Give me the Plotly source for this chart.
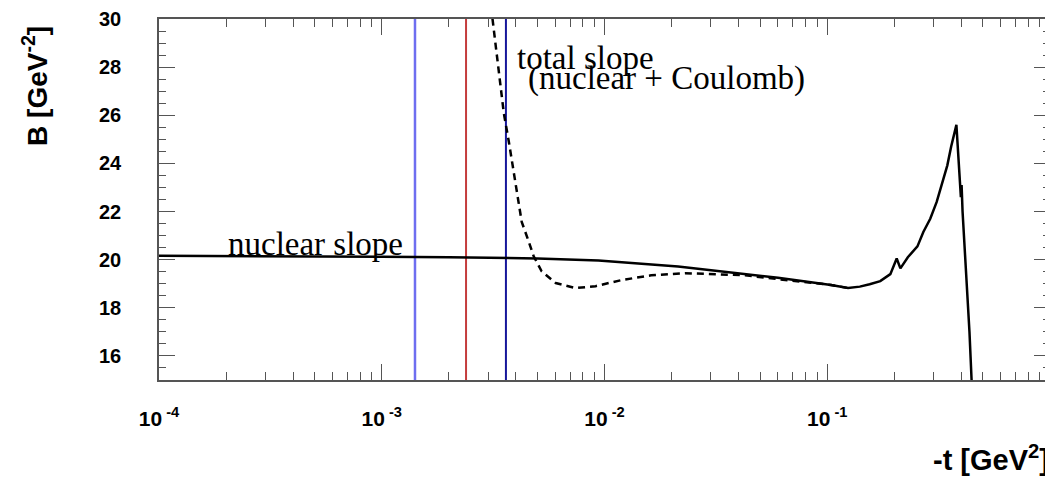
import plotly.graph_objects as go

# ---- data ----
nuclear_t = [1e-4, 3e-4, 1e-3, 2e-3, 3.61e-3, 5e-3, 9.4e-3, 0.0214, 0.0601, 0.104, 0.124,
             0.14, 0.155, 0.173, 0.192, 0.205, 0.213, 0.23, 0.254, 0.27, 0.29, 0.31,
             0.346, 0.36, 0.38, 0.392, 0.398, 0.401, 0.405, 0.435, 0.447]
nuclear_B = [20.16, 20.15, 20.12, 20.10, 20.08, 20.05, 19.97, 19.72, 19.25, 18.95, 18.82,
             18.88, 18.98, 19.11, 19.40, 20.05, 19.64, 20.10, 20.55, 21.15, 21.70, 22.40,
             23.92, 24.70, 25.60, 23.40, 22.60, 23.10, 22.00, 17.00, 14.50]

total_t = [3.05e-3, 3.3e-3, 3.53e-3, 3.72e-3, 4.25e-3, 4.57e-3, 4.81e-3, 5.22e-3, 6.04e-3,
           7.42e-3, 9.12e-3, 0.0119, 0.0162, 0.0230, 0.0301, 0.0428, 0.0601, 0.104, 0.124]
total_B = [31.0, 28.3, 26.1, 24.9, 21.57, 20.75, 20.14, 19.52, 19.03,
           18.82, 18.90, 19.15, 19.35, 19.44, 19.40, 19.35, 19.19, 18.95, 18.82]

vline_t = [1.41e-3, 2.39e-3, 3.61e-3]
vline_colors = ["#6e6ef0", "#c43c3c", "#16169a"]
vline_widths = [2.5, 2, 2]

y_range = [15, 30]
x_major = [1e-4, 1e-3, 1e-2, 1e-1, 1.0]
x_major_text = ["10<sup> -4</sup>", "10<sup> -3</sup>", "10<sup> -2</sup>", "10<sup> -1</sup>", " "]
x_minor = [k * d for d in [1e-4, 1e-3, 1e-2, 1e-1] for k in range(2, 10)]
y_major = [16, 18, 20, 22, 24, 26, 28, 30]

fig = go.Figure()

for t, c, w in zip(vline_t, vline_colors, vline_widths):
    fig.add_trace(go.Scatter(x=[t, t], y=y_range, mode="lines",
                             line=dict(color=c, width=w), showlegend=False, hoverinfo="skip"))

fig.add_trace(go.Scatter(x=nuclear_t, y=nuclear_B, mode="lines",
                         line=dict(color="black", width=2.5), showlegend=False))
fig.add_trace(go.Scatter(x=total_t, y=total_B, mode="lines",
                         line=dict(color="black", width=2.5, dash="7px,5px"), showlegend=False))

axis_col = "#555555"
tickfont = dict(family="Liberation Sans", size=20, color="black", weight="bold")

fig.update_xaxes(type="log", range=[-4, 0], showline=True, linecolor=axis_col, linewidth=1.5,
                 mirror="ticks", ticks="inside", ticklen=16, tickwidth=1, tickcolor=axis_col,
                 tickvals=x_major, ticktext=x_major_text,
                 tickfont=dict(family="Liberation Sans", size=21, color="black", weight="bold"),
                 ticklabelstandoff=19, ticklabeloverflow="allow",
                 minor=dict(ticks="inside", ticklen=8, tickwidth=1, tickcolor=axis_col,
                            tickvals=x_minor),
                 showgrid=False, zeroline=False)
fig.update_yaxes(range=y_range, showline=True, linecolor=axis_col, linewidth=1.5,
                 mirror="ticks", ticks="inside", ticklen=16, tickwidth=1, tickcolor=axis_col,
                 tickvals=y_major, ticktext=[str(v) for v in y_major], tickfont=tickfont,
                 ticklabelstandoff=32, ticklabeloverflow="allow",
                 minor=dict(ticks="inside", ticklen=7, tickwidth=1, tickcolor=axis_col, dtick=0.5),
                 showgrid=False, zeroline=False)

serif = dict(family="Liberation Serif", size=33, color="black")
annos = [
    dict(text="nuclear slope", x=0.0755, y=0.378, font=serif),
    dict(text="total slope", x=0.4, y=0.893, font=serif),
    dict(text="(nuclear + Coulomb)", x=0.412, y=0.836, font=serif),
]
for a in annos:
    fig.add_annotation(xref="paper", yref="paper", xanchor="left", yanchor="middle",
                       showarrow=False, **a)

fig.add_annotation(xref="paper", yref="paper", x=-0.139, y=0.815, xanchor="center", yanchor="middle",
                   text="B [GeV<sup>-2</sup>]", textangle=-90, showarrow=False,
                   font=dict(family="Liberation Sans", size=28, color="black", weight="bold"))
fig.add_annotation(xref="paper", yref="paper", x=0.866, y=-0.216, xanchor="left", yanchor="middle",
                   text="-t [GeV<sup>2</sup>]", showarrow=False,
                   font=dict(family="Liberation Sans", size=29, color="black", weight="bold"))

# page body has an 8px margin: compensate so the plot frame lands where the reference has it
fig.update_layout(width=1045, height=471, margin=dict(l=151, r=0, t=7, b=99),
                  plot_bgcolor="white", paper_bgcolor="white")

fig.write_html("out.html")
